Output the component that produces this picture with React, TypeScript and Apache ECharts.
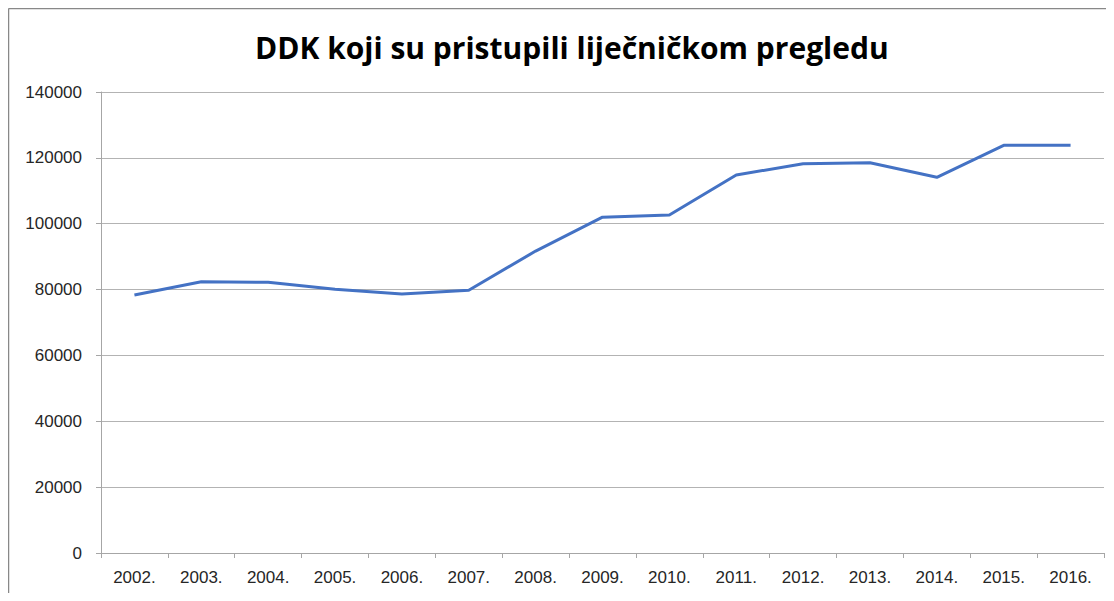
import React, { useEffect, useRef } from "react";
import * as echarts from "echarts";

const title = "DDK koji su pristupili liječničkom pregledu";
const years = ["2002.", "2003.", "2004.", "2005.", "2006.", "2007.", "2008.", "2009.", "2010.", "2011.", "2012.", "2013.", "2014.", "2015.", "2016."];
const values = [78350, 82400, 82200, 80100, 78650, 79800, 91700, 102000, 102650, 114800, 118200, 118500, 114100, 123800, 123800];

export default function App() {
  const ref = useRef<HTMLDivElement>(null);
  useEffect(() => {
    if (!ref.current) return;
    const chart = echarts.init(ref.current, null, { renderer: "svg" });
    chart.setOption({
      animation: false,
      backgroundColor: "#ffffff",
      title: {
        text: title,
        left: 250,
        top: 27,
        textStyle: { fontFamily: "Open Sans", fontWeight: "bold", fontSize: 30, color: "#000000" },
      },
      graphic: [
        {
          type: "line",
          z: 100,
          silent: true,
          shape: { x1: 8.5, y1: 8.5, x2: 1114, y2: 8.5 },
          style: { stroke: "#888888", lineWidth: 1.5 },
        },
        {
          type: "line",
          z: 100,
          silent: true,
          shape: { x1: 8.5, y1: 8.5, x2: 8.5, y2: 601 },
          style: { stroke: "#888888", lineWidth: 1.5 },
        },
      ],
      grid: { left: 101, right: 10, top: 92, bottom: 48, containLabel: false },
      xAxis: {
        type: "category",
        data: years,
        boundaryGap: true,
        axisLine: { show: true, lineStyle: { color: "#a6a6a6", width: 1 } },
        axisTick: { show: true, alignWithLabel: false, length: 5, lineStyle: { color: "#a6a6a6" } },
        axisLabel: { fontFamily: "Liberation Sans", fontSize: 17, color: "#262626", margin: 16 },
        splitLine: { show: false },
      },
      yAxis: {
        type: "value",
        min: 0,
        max: 140000,
        interval: 20000,
        axisLine: { show: true, lineStyle: { color: "#a6a6a6", width: 1 } },
        axisTick: { show: true, length: 5, lineStyle: { color: "#a6a6a6" } },
        axisLabel: {
          fontFamily: "Liberation Sans",
          fontSize: 17,
          color: "#262626",
          margin: 19,
          formatter: (v: number) => String(v),
        },
        splitLine: { show: true, lineStyle: { color: "#b3b3b3", width: 1 } },
      },
      series: [
        {
          type: "line",
          data: values,
          symbol: "none",
          lineStyle: { color: "#4472C4", width: 3 },
          itemStyle: { color: "#4472C4" },
        },
      ],
    });
    return () => chart.dispose();
  }, []);
  return <div ref={ref} style={{ width: 1114, height: 601, margin: -8 }} />;
}
